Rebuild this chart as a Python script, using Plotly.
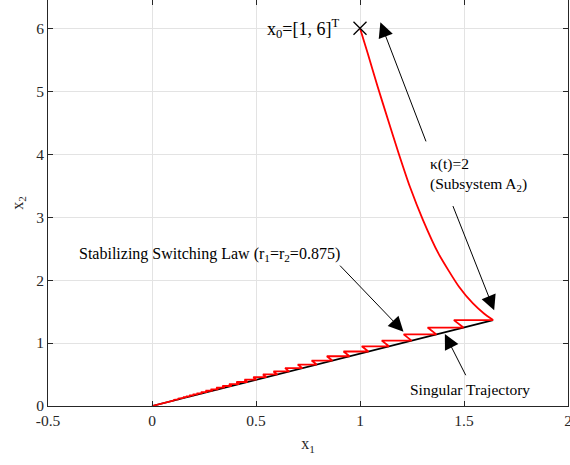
import plotly.graph_objects as go

# ---- data ----
# Subsystem A2 trajectory from x0 = [1, 6]^T
arc_x = [1.000, 1.037, 1.085, 1.135, 1.186, 1.240, 1.303, 1.377, 1.476, 1.543, 1.596, 1.640]
arc_y = [6.000, 5.603, 5.073, 4.543, 4.013, 3.483, 2.954, 2.424, 1.894, 1.629, 1.470, 1.365]

# Switching (zig-zag) trajectory vertices, from the arc end back to the origin
zig_x = [1.6400, 1.4514, 1.4973, 1.3251, 1.3671, 1.2099, 1.2481, 1.1046, 1.1395,
         1.0085, 1.0404, 0.9208, 0.9499, 0.8406, 0.8672, 0.7675, 0.7918, 0.7007,
         0.7229, 0.6398, 0.6600, 0.5841, 0.6026, 0.5333, 0.5502, 0.4869, 0.5023,
         0.4445, 0.4586, 0.4059, 0.4187, 0.3705, 0.3823, 0.3383, 0.3490, 0.3089,
         0.3187, 0.2820, 0.2909, 0.2574, 0.2656, 0.2351, 0.2425, 0.2146, 0.2214,
         0.1959, 0.2021, 0.1789, 0.1846, 0.1634, 0.1685, 0.1491, 0.1538, 0.1361,
         0.1405, 0.1243, 0.1282, 0.1135, 0.1171, 0.1036, 0.1069, 0.0000]
zig_y = [1.3645, 1.3645, 1.2458, 1.2458, 1.1374, 1.1374, 1.0384, 1.0384, 0.9481,
         0.9481, 0.8656, 0.8656, 0.7903, 0.7903, 0.7215, 0.7215, 0.6588, 0.6588,
         0.6015, 0.6015, 0.5491, 0.5491, 0.5014, 0.5014, 0.4578, 0.4578, 0.4179,
         0.4179, 0.3816, 0.3816, 0.3484, 0.3484, 0.3181, 0.3181, 0.2904, 0.2904,
         0.2652, 0.2652, 0.2420, 0.2420, 0.2210, 0.2210, 0.2018, 0.2018, 0.1842,
         0.1842, 0.1681, 0.1681, 0.1536, 0.1536, 0.1402, 0.1402, 0.1280, 0.1280,
         0.1169, 0.1169, 0.1067, 0.1067, 0.0974, 0.0974, 0.0889, 0.0000]

# Singular trajectory
sing_x = [0.0, 1.640]
sing_y = [0.0, 1.3645]

# initial point
x0 = [1.0]
y0 = [6.0]

# ticks
x_ticks = [-0.5, 0, 0.5, 1, 1.5, 2]
x_tick_labels = ["-0.5", "0", "0.5", "1", "1.5", "2"]
y_ticks = [0, 1, 2, 3, 4, 5, 6]
y_tick_labels = ["0", "1", "2", "3", "4", "5", "6"]

FONT = "Liberation Serif, Times New Roman, serif"
AX = "#262626"

fig = go.Figure()
fig.add_trace(go.Scatter(x=sing_x, y=sing_y, mode="lines",
                         line=dict(color="black", width=1.6), hoverinfo="skip"))
fig.add_trace(go.Scatter(x=zig_x, y=zig_y, mode="lines",
                         line=dict(color="red", width=1.8), hoverinfo="skip"))
fig.add_trace(go.Scatter(x=arc_x, y=arc_y, mode="lines",
                         line=dict(color="red", width=1.8, shape="spline", smoothing=0.6),
                         hoverinfo="skip"))
fig.add_trace(go.Scatter(x=x0, y=y0, mode="markers",
                         marker=dict(symbol="x-thin", size=13, line=dict(color="black", width=1.3)),
                         hoverinfo="skip"))

arrow = dict(showarrow=True, arrowhead=2, arrowsize=3, arrowwidth=1, arrowcolor="black",
             axref="x", ayref="y", xref="x", yref="y", text="")
annos = [
    dict(x=1.098, y=6.095, ax=1.320, ay=4.18, **arrow),
    dict(x=1.645, y=1.52, ax=1.444, ay=3.20, **arrow),
    dict(x=1.209, y=1.18, ax=0.897, ay=2.254, **arrow),
    dict(x=1.408, y=1.143, ax=1.512, ay=0.465, **arrow),
    dict(x=0.907, y=6.0, xref="x", yref="y", showarrow=False, xanchor="right", yanchor="middle",
         text="x<sub>0</sub>=[1, 6]<sup>T</sup>", font=dict(family=FONT, size=18, color="black")),
    dict(x=1.328, y=3.68, xref="x", yref="y", showarrow=False, xanchor="left", yanchor="middle",
         align="left", text="κ(t)=2<br>(Subsystem A<sub>2</sub>)",
         font=dict(family=FONT, size=15.5, color="black")),
    dict(x=0.276, y=2.40, xref="x", yref="y", showarrow=False, xanchor="center", yanchor="middle",
         text="Stabilizing Switching Law (r<sub>1</sub>=r<sub>2</sub>=0.875)",
         font=dict(family=FONT, size=16, color="black")),
    dict(x=1.530, y=0.265, xref="x", yref="y", showarrow=False, xanchor="center", yanchor="middle",
         text="Singular Trajectory", font=dict(family=FONT, size=15.5, color="black")),
]

fig.update_layout(
    width=570, height=465,
    margin=dict(l=48, r=2, t=0, b=59, autoexpand=False),
    paper_bgcolor="white", plot_bgcolor="white",
    showlegend=False,
    font=dict(family=FONT, size=15, color=AX),
    annotations=annos,
    xaxis=dict(range=[-0.5, 2], tickvals=x_ticks, ticktext=x_tick_labels, automargin=False,
               ticklabeloverflow="allow",
               showgrid=True, gridcolor="#e3e3e3", gridwidth=1, zeroline=False,
               showline=True, linecolor=AX, linewidth=1, mirror="ticks",
               ticks="inside", ticklen=5, tickcolor=AX,
               tickfont=dict(family=FONT, size=15.5, color=AX),
               title=dict(text="x<sub>1</sub>", font=dict(family=FONT, size=16, color=AX), standoff=10)),
    yaxis=dict(range=[0, 6.45], tickvals=y_ticks, ticktext=y_tick_labels, automargin=False,
               showgrid=True, gridcolor="#e3e3e3", gridwidth=1, zeroline=False,
               showline=True, linecolor=AX, linewidth=1, mirror="ticks",
               ticks="inside", ticklen=5, tickcolor=AX,
               tickfont=dict(family=FONT, size=15.5, color=AX),
               title=dict(text="x<sub>2</sub>", font=dict(family=FONT, size=16, color=AX), standoff=8)),
)

fig.write_html("out.html", config={"displayModeBar": False},
               post_script="document.body.style.margin='0';document.body.style.overflow='hidden';")
